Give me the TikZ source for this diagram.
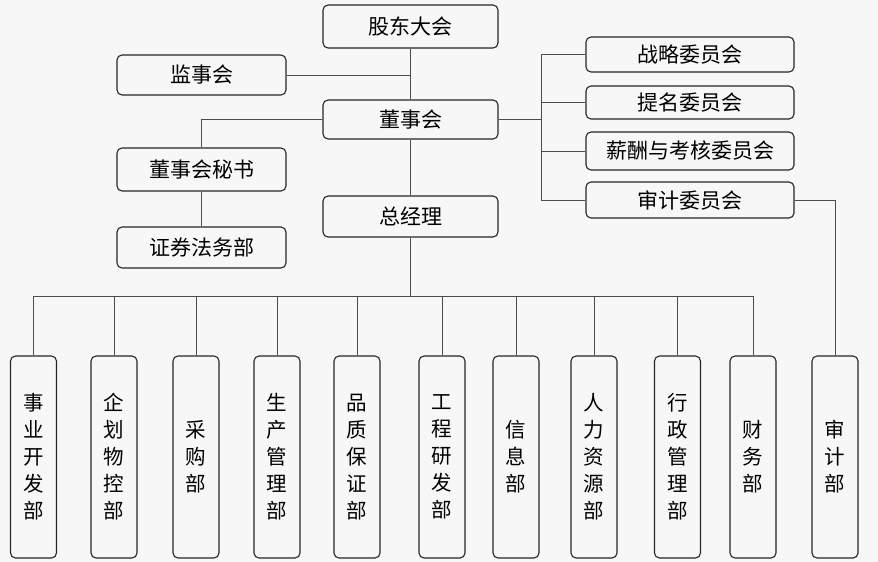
\documentclass[tikz,border=0pt]{standalone}
\usepackage{fontspec}
\newfontfamily\cjk{Noto Sans CJK SC}
\begin{document}
\begin{tikzpicture}[x=1pt,y=-1pt,
  box/.style={draw=black!85, line width=1.1pt, rounded corners=5pt, fill=black!3, inner sep=0pt,
    font=\cjk\fontsize{21}{25}\selectfont},
  vbox/.style={box, minimum width=46pt, minimum height=202pt, align=center,
    font=\cjk\fontsize{20.5}{27}\selectfont},
  conn/.style={draw=black!70, line width=0.8pt}]
\fill[black!3] (0,0) rectangle (878,562);
\useasboundingbox (0,0) rectangle (878,562);
% centre column
\node[box, minimum width=175pt, minimum height=43pt] (gd) at (410.5,26.5) {股东大会};
\node[box, minimum width=175pt, minimum height=39pt] (dsh) at (410.5,119.5) {董事会};
\node[box, minimum width=175pt, minimum height=41pt] (zjl) at (410.5,216.5) {总经理};
% left column
\node[box, minimum width=169pt, minimum height=40pt] (jsh) at (201.5,75) {监事会};
\node[box, minimum width=169pt, minimum height=43pt] (ms) at (201.5,169.5) {董事会秘书};
\node[box, minimum width=169pt, minimum height=41pt] (zq) at (201.5,247.5) {证券法务部};
% right column
\node[box, minimum width=208pt, minimum height=35pt] (zl) at (690,54.5) {战略委员会};
\node[box, minimum width=208pt, minimum height=33pt] (tm) at (690,102.5) {提名委员会};
\node[box, minimum width=208pt, minimum height=38pt] (xc) at (690,151) {薪酬与考核委员会};
\node[box, minimum width=208pt, minimum height=36pt] (sjw) at (690,200) {审计委员会};
% departments
\node[vbox] (d1) at (33.5,457) {事\\业\\开\\发\\部};
\node[vbox] (d2) at (114,457) {企\\划\\物\\控\\部};
\node[vbox] (d3) at (196,457) {采\\购\\部};
\node[vbox] (d4) at (277,457) {生\\产\\管\\理\\部};
\node[vbox] (d5) at (357,457) {品\\质\\保\\证\\部};
\node[vbox] (d6) at (442,457) {工\\程\\研\\发\\部};
\node[vbox] (d7) at (516,457) {信\\息\\部};
\node[vbox] (d8) at (594,457) {人\\力\\资\\源\\部};
\node[vbox] (d9) at (677.5,457) {行\\政\\管\\理\\部};
\node[vbox] (d10) at (753,457) {财\\务\\部};
\node[vbox] (d11) at (835,457) {审\\计\\部};
% connectors
\draw[conn] (gd.south) -- (dsh.north);
\draw[conn] (jsh.east) -- (jsh.east -| gd.south);
\draw[conn] (dsh.west) -| (ms.north);
\draw[conn] (ms.south) -- (zq.north);
\draw[conn] (dsh.south) -- (zjl.north);
\coordinate (cbus) at (541,119.5);
\draw[conn] (dsh.east) -- (cbus);
\foreach \c in {zl,tm,xc,sjw} \draw[conn] (cbus) |- (\c.west);
\draw[conn] (sjw.east) -| (d11.north);
\coordinate (bus) at (410.5,296);
\draw[conn] (zjl.south) -- (bus);
\foreach \d in {d1,d2,d3,d4,d5,d6,d7,d8,d9,d10} \draw[conn] (bus) -| (\d.north);
\end{tikzpicture}
\end{document}
